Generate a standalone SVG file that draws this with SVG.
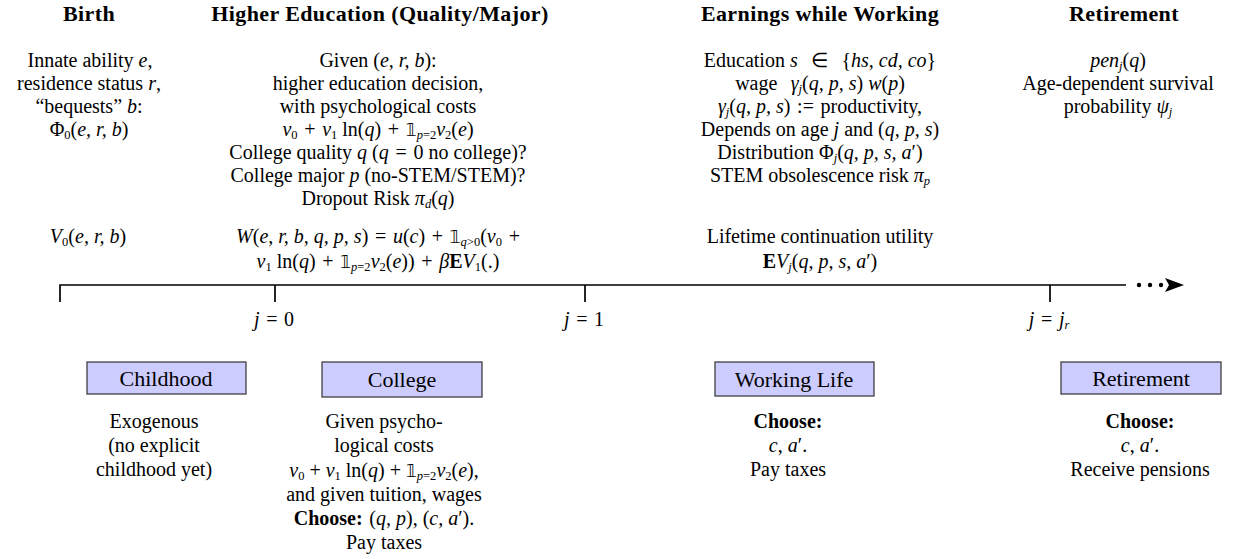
<svg xmlns="http://www.w3.org/2000/svg" width="1236" height="559" viewBox="0 0 1236 559">
<style>
.h{font-family:"Liberation Serif",serif;font-weight:bold;font-size:22px;letter-spacing:0.4px;text-anchor:middle;fill:#000}
.t{font-family:"Liberation Serif",serif;font-size:20px;text-anchor:middle;fill:#000}
.bl{font-size:22px}
.i{font-style:italic}
.b{font-weight:bold}
.s{font-size:12.5px}
.bb{font-family:"DejaVu Sans",sans-serif;font-size:17px}
.box{fill:#ccccff;stroke:#404040;stroke-width:1.3}
.ax{stroke:#000;stroke-width:1.7;fill:none}
</style>
<rect width="1236" height="559" fill="#fff"/>
<g id="connectors">
<path class="ax" d="M60,302 V285 H1126"/>
<path class="ax" d="M275,285 V302 M585,285 V302 M1050,285 V302"/>
<circle cx="1139" cy="285" r="2.2"/>
<circle cx="1150" cy="285" r="2.2"/>
<circle cx="1161" cy="285" r="2.2"/>
<path d="M1184,285 L1165,278 L1169,285 L1165,292 Z" fill="#000"/>
</g>
<g id="birth">
<text class="h" x="89" y="21">Birth</text>
<text class="t" x="90" y="67">Innate ability <tspan class="i">e</tspan>,</text>
<text class="t" x="89" y="90">residence status <tspan class="i">r</tspan>,</text>
<text class="t" x="89" y="113">“bequests” <tspan class="i">b</tspan>:</text>
<text class="t" x="89" y="136">Φ<tspan class="s" baseline-shift="-3">0</tspan>(<tspan class="i">e, r, b</tspan>)</text>
<text class="t" x="88" y="243"><tspan class="i">V</tspan><tspan class="s" baseline-shift="-3">0</tspan>(<tspan class="i">e, r, b</tspan>)</text>
</g>
<g id="higher-education">
<text class="h" x="380" y="21">Higher Education (Quality/Major)</text>
<text class="t" x="378" y="67">Given (<tspan class="i">e, r, b</tspan>):</text>
<text class="t" x="378" y="90">higher education decision,</text>
<text class="t" x="378" y="113">with psychological costs</text>
<text class="t" x="378" y="136"><tspan class="i">ν</tspan><tspan class="s" baseline-shift="-3">0</tspan>&#x2004;+&#x2004;<tspan class="i">ν</tspan><tspan class="s" baseline-shift="-3">1</tspan> ln(<tspan class="i">q</tspan>)&#x2004;+&#x2004;<tspan class="bb">𝟙</tspan><tspan class="s i" baseline-shift="-3">p</tspan><tspan class="s" baseline-shift="-3">=2</tspan><tspan class="i">ν</tspan><tspan class="s" baseline-shift="-3">2</tspan>(<tspan class="i">e</tspan>)</text>
<text class="t" x="378" y="159">College quality <tspan class="i">q</tspan> (<tspan class="i">q</tspan>&#x2004;=&#x2004;0 no college)?</text>
<text class="t" x="378" y="182">College major <tspan class="i">p</tspan> (no-STEM/STEM)?</text>
<text class="t" x="378" y="205">Dropout Risk <tspan class="i">π</tspan><tspan class="s i" baseline-shift="-3">d</tspan>(<tspan class="i">q</tspan>)</text>
<text class="t" x="378" y="243"><tspan class="i">W</tspan>(<tspan class="i">e, r, b, q, p, s</tspan>)&#x2004;=&#x2004;<tspan class="i">u</tspan>(<tspan class="i">c</tspan>)&#x2004;+&#x2004;<tspan class="bb">𝟙</tspan><tspan class="s i" baseline-shift="-3">q</tspan><tspan class="s" baseline-shift="-3">&gt;0</tspan>(<tspan class="i">ν</tspan><tspan class="s" baseline-shift="-3">0</tspan>&#x2004;+</text>
<text class="t" x="378" y="268"><tspan class="i">ν</tspan><tspan class="s" baseline-shift="-3">1</tspan> ln(<tspan class="i">q</tspan>)&#x2004;+&#x2004;<tspan class="bb">𝟙</tspan><tspan class="s i" baseline-shift="-3">p</tspan><tspan class="s" baseline-shift="-3">=2</tspan><tspan class="i">ν</tspan><tspan class="s" baseline-shift="-3">2</tspan>(<tspan class="i">e</tspan>))&#x2004;+&#x2004;<tspan class="i">β</tspan><tspan class="b">E</tspan><tspan class="i">V</tspan><tspan class="s" baseline-shift="-3">1</tspan>(.)</text>
</g>
<g id="earnings">
<text class="h" x="820" y="21">Earnings while Working</text>
<text class="t" x="820" y="67">Education <tspan class="i">s</tspan>&#x2004;&#x2004;∈&#x2004;&#x2004;{<tspan class="i">hs, cd, co</tspan>}</text>
<text class="t" x="820" y="90">wage&#x2004;&#x2004;<tspan class="i">γ</tspan><tspan class="s i" baseline-shift="-3">j</tspan>(<tspan class="i">q, p, s</tspan>) <tspan class="i">w</tspan>(<tspan class="i">p</tspan>)</text>
<text class="t" x="820" y="113"><tspan class="i">γ</tspan><tspan class="s i" baseline-shift="-3">j</tspan>(<tspan class="i">q, p, s</tspan>)&#x2004;:=&#x2004;productivity,</text>
<text class="t" x="820" y="136">Depends on age <tspan class="i">j</tspan> and (<tspan class="i">q, p, s</tspan>)</text>
<text class="t" x="820" y="159">Distribution Φ<tspan class="s i" baseline-shift="-3">j</tspan>(<tspan class="i">q, p, s, a</tspan>′)</text>
<text class="t" x="820" y="182">STEM obsolescence risk <tspan class="i">π</tspan><tspan class="s i" baseline-shift="-3">p</tspan></text>
<text class="t" x="820" y="243">Lifetime continuation utility</text>
<text class="t" x="820" y="268"><tspan class="b">E</tspan><tspan class="i">V</tspan><tspan class="s i" baseline-shift="-3">j</tspan>(<tspan class="i">q, p, s, a</tspan>′)</text>
</g>
<g id="retirement">
<text class="h" x="1124" y="21">Retirement</text>
<text class="t" x="1118" y="67"><tspan class="i">pen</tspan><tspan class="s i" baseline-shift="-3">j</tspan>(<tspan class="i">q</tspan>)</text>
<text class="t" x="1118" y="90">Age-dependent survival</text>
<text class="t" x="1118" y="113">probability <tspan class="i">ψ</tspan><tspan class="s i" baseline-shift="-3">j</tspan></text>
</g>
<g id="tick-labels">
<text class="t" x="274" y="326"><tspan class="i">j</tspan>&#x2004;=&#x2004;0</text>
<text class="t" x="584" y="326"><tspan class="i">j</tspan>&#x2004;=&#x2004;1</text>
<text class="t" x="1049" y="326"><tspan class="i">j</tspan>&#x2004;=&#x2004;<tspan class="i">j</tspan><tspan class="s i" baseline-shift="-3">r</tspan></text>
</g>
<g id="childhood">
<rect class="box" x="87" y="362" width="159" height="32"/>
<text class="t bl" x="166" y="386">Childhood</text>
<text class="t" x="154" y="428">Exogenous</text>
<text class="t" x="154" y="452">(no explicit</text>
<text class="t" x="154" y="476">childhood yet)</text>
</g>
<g id="college">
<rect class="box" x="322" y="362" width="160" height="35"/>
<text class="t bl" x="402" y="387">College</text>
<text class="t" x="384" y="428">Given psycho-</text>
<text class="t" x="384" y="452">logical costs</text>
<text class="t" x="384" y="477"><tspan class="i">ν</tspan><tspan class="s" baseline-shift="-3">0</tspan> + <tspan class="i">ν</tspan><tspan class="s" baseline-shift="-3">1</tspan> ln(<tspan class="i">q</tspan>) + <tspan class="bb">𝟙</tspan><tspan class="s i" baseline-shift="-3">p</tspan><tspan class="s" baseline-shift="-3">=2</tspan><tspan class="i">ν</tspan><tspan class="s" baseline-shift="-3">2</tspan>(<tspan class="i">e</tspan>),</text>
<text class="t" x="384" y="501">and given tuition, wages</text>
<text class="t" x="384" y="525"><tspan class="b">Choose:</tspan>&#x2004;(<tspan class="i">q, p</tspan>), (<tspan class="i">c, a</tspan>′).</text>
<text class="t" x="384" y="549">Pay taxes</text>
</g>
<g id="working-life">
<rect class="box" x="715" y="362" width="159" height="34"/>
<text class="t bl" x="794" y="387">Working Life</text>
<text class="t b" x="788" y="428">Choose:</text>
<text class="t" x="788" y="452"><tspan class="i">c</tspan>, <tspan class="i">a</tspan>′.</text>
<text class="t" x="788" y="476">Pay taxes</text>
</g>
<g id="retirement-phase">
<rect class="box" x="1061" y="362" width="160" height="32"/>
<text class="t bl" x="1141" y="386">Retirement</text>
<text class="t b" x="1140" y="428">Choose:</text>
<text class="t" x="1140" y="452"><tspan class="i">c</tspan>, <tspan class="i">a</tspan>′.</text>
<text class="t" x="1140" y="476">Receive pensions</text>
</g>
</svg>
